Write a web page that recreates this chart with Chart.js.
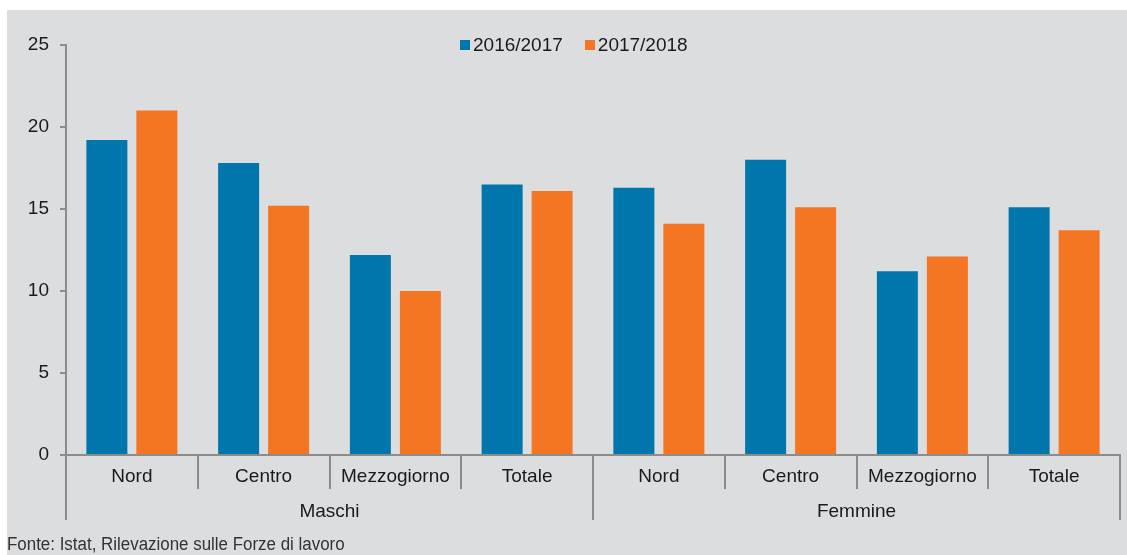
<!DOCTYPE html>
<html>
<head>
<meta charset="utf-8">
<script src="https://cdn.jsdelivr.net/npm/chart.js@4.4.1/dist/chart.umd.min.js"></script>
<style>
    body { margin: 0; background: #ffffff; width: 1127px; height: 555px; overflow: hidden; }
    .panel { position: absolute; left: 7px; top: 10px; width: 1120px; height: 545px; background: #dcdddf; }
    canvas { position: absolute; left: 0; top: 0; }
    .legend { position: absolute; left: 453px; top: 24px; display: flex; align-items: center; font: 19px "Liberation Sans", Arial, sans-serif; color: #1a1a1a; }
    .legend-item { display: flex; align-items: center; margin-right: 22px; }
    .legend-box { width: 10px; height: 10px; margin-right: 3px; }
    .source { position: absolute; left: 0; top: 524px; font: 18px "Liberation Sans Narrow", "Arial Narrow", "Liberation Sans", sans-serif; color: #333333; transform: scaleX(0.94); transform-origin: left center; white-space: nowrap; }
</style>
</head>
<body>
<div class="panel">
    <canvas id="chart" width="1120" height="545"></canvas>
    <div class="legend" id="legend"></div>
    <div class="source">Fonte: Istat, Rilevazione sulle Forze di lavoro</div>
</div>
<script>
const categories = ['Nord', 'Centro', 'Mezzogiorno', 'Totale', 'Nord', 'Centro', 'Mezzogiorno', 'Totale'];
const groups = ['Maschi', 'Femmine'];
const seriesNames = ['2016/2017', '2017/2018'];
const values2016 = [19.2, 17.8, 12.2, 16.5, 16.3, 18.0, 11.2, 15.1];
const values2017 = [21.0, 15.2, 10.0, 16.1, 14.1, 15.1, 12.1, 13.7];
const yTicks = [0, 5, 10, 15, 20, 25];

const BLUE = '#0076ad';
const ORANGE = '#f47522';
const AXIS = '#8c8c8c';
const TEXT = '#1a1a1a';
const FONT = '"Liberation Sans", Arial, sans-serif';

// Legend as html, built from the dataset names and colours
const legendEl = document.getElementById('legend');
[[seriesNames[0], BLUE], [seriesNames[1], ORANGE]].forEach(([name, color]) => {
    const item = document.createElement('div');
    item.className = 'legend-item';
    item.innerHTML = `<span class="legend-box" style="background:${color}"></span><span>${name}</span>`;
    legendEl.appendChild(item);
});

// Two-level category axis: labels, dividers and group names
const groupAxis = {
    id: 'groupAxis',
    afterDraw(chart) {
        const ctx = chart.ctx;
        const x = chart.scales.x;
        const bottom = chart.chartArea.bottom;
        const n = categories.length;
        const edge = i => {
            if (i === 0) return chart.chartArea.left;
            if (i === n) return chart.chartArea.right;
            return (x.getPixelForValue(i - 1) + x.getPixelForValue(i)) / 2;
        };

        ctx.save();
        ctx.strokeStyle = AXIS;
        ctx.lineWidth = 2;
        for (let i = 0; i <= n; i++) {
            const px = Math.round(edge(i));
            const long = i % 4 === 0;
            ctx.beginPath();
            ctx.moveTo(px, bottom);
            ctx.lineTo(px, bottom + (long ? 65 : 34));
            ctx.stroke();
        }

        ctx.fillStyle = TEXT;
        ctx.font = '19px ' + FONT;
        ctx.textAlign = 'center';
        ctx.textBaseline = 'middle';
        categories.forEach((c, i) => {
            ctx.fillText(c, x.getPixelForValue(i), bottom + 22);
        });
        groups.forEach((g, gi) => {
            const cx = (edge(gi * 4) + edge(gi * 4 + 4)) / 2;
            ctx.fillText(g, cx, bottom + 57);
        });
        ctx.restore();
    }
};

new Chart(document.getElementById('chart').getContext('2d'), {
    type: 'bar',
    data: {
        labels: categories,
        datasets: [
            { label: seriesNames[0], data: values2016, backgroundColor: BLUE },
            { label: seriesNames[1], data: values2017, backgroundColor: ORANGE }
        ]
    },
    options: {
        responsive: false,
        animation: false,
        layout: { padding: { top: 35, left: 0, right: 7, bottom: 25 } },
        datasets: { bar: { categoryPercentage: 0.759, barPercentage: 0.82 } },
        plugins: {
            legend: { display: false },
            tooltip: { enabled: false }
        },
        scales: {
            x: {
                grid: { display: false },
                border: { display: true, color: AXIS, width: 2 },
                ticks: { display: false },
                afterFit: s => { s.height = 75; }
            },
            y: {
                min: 0,
                max: 25,
                afterBuildTicks: s => { s.ticks = yTicks.map(v => ({ value: v })); },
                grid: { drawOnChartArea: false, drawTicks: true, tickLength: 6, color: AXIS, lineWidth: 2 },
                border: { display: true, color: AXIS, width: 2 },
                ticks: { color: TEXT, padding: 11, font: { family: FONT, size: 19 } },
                afterFit: s => { s.width = 59; }
            }
        }
    },
    plugins: [groupAxis]
});
</script>
</body>
</html>
